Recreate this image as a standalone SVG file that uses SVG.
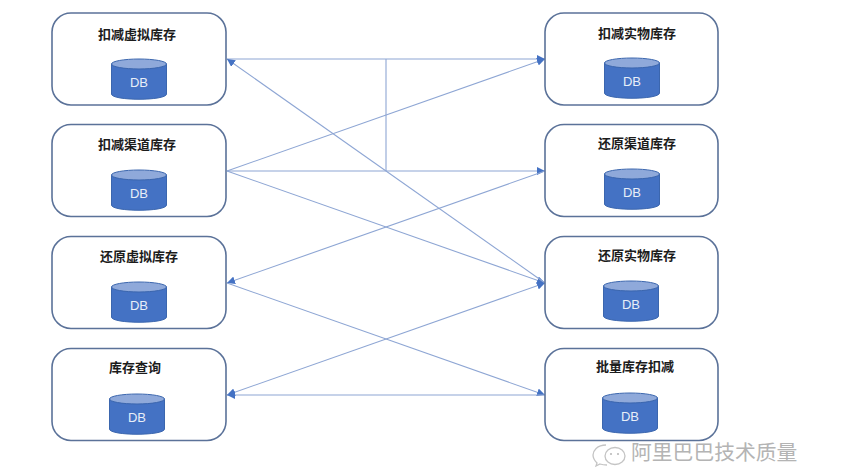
<svg xmlns="http://www.w3.org/2000/svg" width="848" height="475" viewBox="0 0 848 475">
<style>
.box{fill:#fff;stroke:#5b7299;stroke-width:1.6}
.t{font-family:"Noto Sans CJK SC","Liberation Sans",sans-serif;font-size:13px;font-weight:700;fill:#1c1c1c;text-anchor:middle}
.db{font-family:"Liberation Sans",Arial,sans-serif;font-size:13px;fill:#e8eef8;text-anchor:middle}
.body{fill:#4472c4;stroke:#3b66ae;stroke-width:1}
.top{fill:#8fa9da;stroke:#3b66ae;stroke-width:1}
.c{fill:none;stroke:#8ea6d4;stroke-width:1.1}
.wm{font-family:"Noto Sans CJK SC",sans-serif;font-size:20.8px;fill:#b4b4b4}
</style>
<defs>
<marker id="a" markerUnits="userSpaceOnUse" markerWidth="9" markerHeight="8" refX="8" refY="4" orient="auto-start-reverse"><path d="M0 0L8 4L0 8Z" fill="#4472c4"/></marker>
<g id="cyl">
<path class="body" d="M-27.500 -15V15C-27.500 22 27.500 22 27.500 15V-15Z"/>
<ellipse class="top" cx="0" cy="-15" rx="27.500" ry="5"/>
<text class="db" x="0" y="8">DB</text>
</g>
</defs>
<g id="connectors">
<path class="c" d="M227 59H545" marker-end="url(#a)"/>
<path class="c" d="M386 59V171"/>
<path class="c" d="M227 171L545 59" marker-end="url(#a)"/>
<path class="c" d="M227 171H545" marker-end="url(#a)"/>
<path class="c" d="M227 171L545 283" marker-end="url(#a)"/>
<path class="c" d="M545 283L227 59" marker-end="url(#a)"/>
<path class="c" d="M545 171L227 283" marker-end="url(#a)"/>
<path class="c" d="M227 283L545 395" marker-end="url(#a)"/>
<path class="c" d="M227 395L545 283" marker-start="url(#a)" marker-end="url(#a)"/>
<path class="c" d="M545 395H227" marker-end="url(#a)"/>
</g>
<g id="n1"><rect class="box" x="52" y="13" width="174" height="92" rx="19"/><text class="t" x="137" y="39">扣减虚拟库存</text><use href="#cyl" x="139" y="79"/></g>
<g id="n2"><rect class="box" x="52" y="124.500" width="174" height="92" rx="19"/><text class="t" x="137" y="149">扣减渠道库存</text><use href="#cyl" x="139" y="190"/></g>
<g id="n3"><rect class="box" x="52" y="236.500" width="174" height="92" rx="19"/><text class="t" x="139" y="261">还原虚拟库存</text><use href="#cyl" x="139" y="302"/></g>
<g id="n4"><rect class="box" x="52" y="348.500" width="174" height="92" rx="19"/><text class="t" x="135" y="372">库存查询</text><use href="#cyl" x="137" y="414"/></g>
<g id="n5"><rect class="box" x="545" y="13" width="173" height="92" rx="19"/><text class="t" x="637" y="38">扣减实物库存</text><use href="#cyl" x="632" y="78"/></g>
<g id="n6"><rect class="box" x="545" y="124.500" width="173" height="92" rx="19"/><text class="t" x="637" y="148">还原渠道库存</text><use href="#cyl" x="632" y="189"/></g>
<g id="n7"><rect class="box" x="545" y="236.500" width="173" height="92" rx="19"/><text class="t" x="637" y="260">还原实物库存</text><use href="#cyl" x="631" y="301"/></g>
<g id="n8"><rect class="box" x="545" y="348.500" width="173" height="92" rx="19"/><text class="t" x="635" y="371">批量库存扣减</text><use href="#cyl" x="630" y="413"/></g>
<g id="watermark">
<path d="M606 445C597 445 593 451 593 455C593 459 595 461 597 463L596 466L600 464C603 465 605 465 607 465" fill="#fff" stroke="#c4c4c4" stroke-width="1.300"/>
<ellipse cx="615" cy="456" rx="10" ry="8.500" fill="#fff" stroke="#c4c4c4" stroke-width="1.300"/>
<circle cx="611" cy="454" r="1.100" fill="#bbb"/><circle cx="618" cy="454" r="1.100" fill="#bbb"/>
<text class="wm" x="631" y="460">阿里巴巴技术质量</text>
</g>
</svg>
